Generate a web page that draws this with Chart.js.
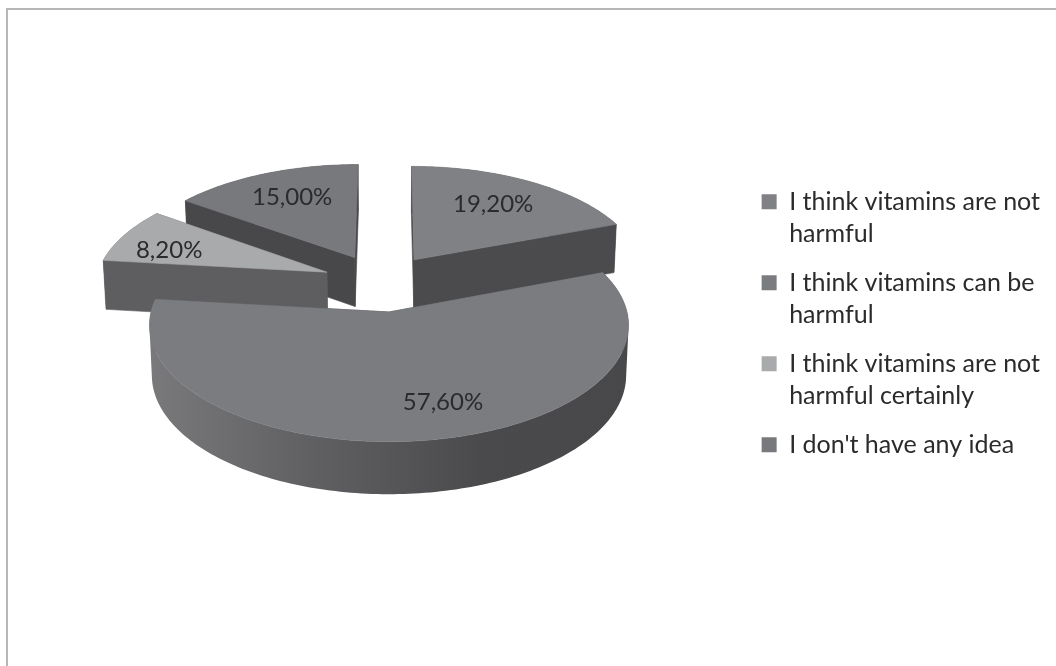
<!DOCTYPE html>
<html>
<head>
<meta charset="utf-8">
<title>Vitamins</title>
<script src="https://cdn.jsdelivr.net/npm/chart.js@4/dist/chart.umd.min.js"></script>
<style>
    html, body { margin: 0; background: #fff; }
    canvas { display: block; }
</style>
</head>
<body>
<canvas id="vitamins" width="1056" height="666"></canvas>
<script>
const categories = [
    ['I think vitamins are not', 'harmful'],
    ['I think vitamins can be', 'harmful'],
    ['I think vitamins are not', 'harmful certainly'],
    ["I don't have any idea"]
];
const shares = [19.2, 57.6, 8.2, 15.0];

const topColors = ['#808184', '#7b7c7f', '#a9aaac', '#78797c'];
const cutColors = ['#4b4b4d', '#4b4b4d', '#5e5e60', '#48484a'];
const paintOrder = [3, 2, 0, 1]; // back slices first

// perspective of the tilted pie, in px
const CX = 389, CY = 312, RX = 238, RY = 115, PERSP = 0.113;
const explode = [0.255, 0.27, 0.255, 0.26];
const labelRadius = [0.685, 0.747, 0.741, 0.70];
const labelTurn = [-1, -9, -5, 1];
const TEXT_COLOR = '#2b2b2d';
const FONT = 'Lato, "Open Sans", sans-serif';

function project(u, v) {
    const s = 1 / (1 - PERSP * v);
    return { x: CX + RX * u * s, y: CY + RY * v * s, s: s };
}

// same ground point on the underside of the slab
function lower(p) {
    return { x: CX + (p.x - CX) * 0.99, y: p.y + 30 + 20 * p.s };
}

function fillShape(ctx, pts, fill) {
    ctx.beginPath();
    pts.forEach((p, i) => i ? ctx.lineTo(p.x, p.y) : ctx.moveTo(p.x, p.y));
    ctx.closePath();
    ctx.fillStyle = fill;
    ctx.strokeStyle = fill;
    ctx.lineWidth = 0.6;
    ctx.fill();
    ctx.stroke();
}

// outer wall: all quads in one path, wound the same way, so no seams between them
function fillWall(ctx, rim, fill) {
    ctx.beginPath();
    for (let k = 0; k < rim.length - 1; k++) {
        let quad = [rim[k], rim[k + 1], lower(rim[k + 1]), lower(rim[k])];
        let area = 0;
        quad.forEach((p, j) => {
            const q = quad[(j + 1) % 4];
            area += p.x * q.y - q.x * p.y;
        });
        if (area < 0) quad = quad.reverse();
        quad.forEach((p, j) => j ? ctx.lineTo(p.x, p.y) : ctx.moveTo(p.x, p.y));
        ctx.closePath();
    }
    ctx.fillStyle = fill;
    ctx.fill();
}

const pie3d = {
    id: 'pie3d',
    beforeDraw(chart) {
        // chart frame, only top and left are visible
        const ctx = chart.ctx;
        ctx.fillStyle = '#b7b7b8';
        ctx.fillRect(6, 8, 1050, 2);
        ctx.fillRect(6, 8, 2, 658);
    },
    beforeDatasetsDraw(chart) {
        const ctx = chart.ctx;
        const arcs = chart.getDatasetMeta(0).data;

        // the biggest slice stays closest to the middle of the scene
        const bigIndex = shares.indexOf(Math.max(...shares));
        const bigMid = (arcs[bigIndex].startAngle + arcs[bigIndex].endAngle) / 2;
        const originU = -explode[bigIndex] * Math.cos(bigMid);
        const originV = -explode[bigIndex] * Math.sin(bigMid);

        const apexes = arcs.map((arc, i) => {
            const mid = (arc.startAngle + arc.endAngle) / 2;
            return { u: originU + explode[i] * Math.cos(mid), v: originV + explode[i] * Math.sin(mid) };
        });

        paintOrder.forEach(i => {
            const arc = arcs[i];
            const apex = project(apexes[i].u, apexes[i].v);
            const rim = [];
            const steps = Math.ceil((arc.endAngle - arc.startAngle) / 0.02);
            for (let k = 0; k <= steps; k++) {
                const a = arc.startAngle + (arc.endAngle - arc.startAngle) * k / steps;
                rim.push(project(apexes[i].u + Math.cos(a), apexes[i].v + Math.sin(a)));
            }
            const first = rim[0], last = rim[rim.length - 1];

            fillShape(ctx, [apex, first, lower(first), lower(apex)], cutColors[i]);
            fillShape(ctx, [apex, last, lower(last), lower(apex)], cutColors[i]);

            const side = ctx.createLinearGradient(CX - RX, 0, CX + RX, 0);
            if (i === 1) {
                side.addColorStop(0, '#79797b');
                side.addColorStop(0.35, '#5f5f61');
                side.addColorStop(0.7, '#4a4a4c');
                side.addColorStop(1, '#48484a');
            } else {
                side.addColorStop(0, cutColors[i]);
                side.addColorStop(1, cutColors[i]);
            }
            fillWall(ctx, rim, side);
            fillShape(ctx, [apex].concat(rim), topColors[i]);
        });

        // value labels on the top faces
        ctx.font = '24px ' + FONT;
        ctx.fillStyle = TEXT_COLOR;
        ctx.textAlign = 'center';
        ctx.textBaseline = 'middle';
        arcs.forEach((arc, i) => {
            const a = (arc.startAngle + arc.endAngle) / 2 + labelTurn[i] * Math.PI / 180;
            const p = project(apexes[i].u + labelRadius[i] * Math.cos(a), apexes[i].v + labelRadius[i] * Math.sin(a));
            ctx.fillText(shares[i].toFixed(2).replace('.', ',') + '%', p.x, p.y);
        });
        return false;
    }
};

const chart = new Chart('vitamins', {
    type: 'pie',
    data: {
        labels: categories,
        datasets: [{ data: shares, backgroundColor: topColors, borderWidth: 0 }]
    },
    options: {
        responsive: false,
        animation: false,
        layout: { padding: { right: 6, bottom: 12 } },
        plugins: {
            tooltip: { enabled: false },
            legend: {
                position: 'right',
                labels: {
                    boxWidth: 15,
                    boxHeight: 15,
                    padding: 16,
                    color: TEXT_COLOR,
                    font: { family: FONT, size: 25, lineHeight: 1.3 }
                }
            }
        }
    },
    plugins: [pie3d]
});
</script>
</body>
</html>
